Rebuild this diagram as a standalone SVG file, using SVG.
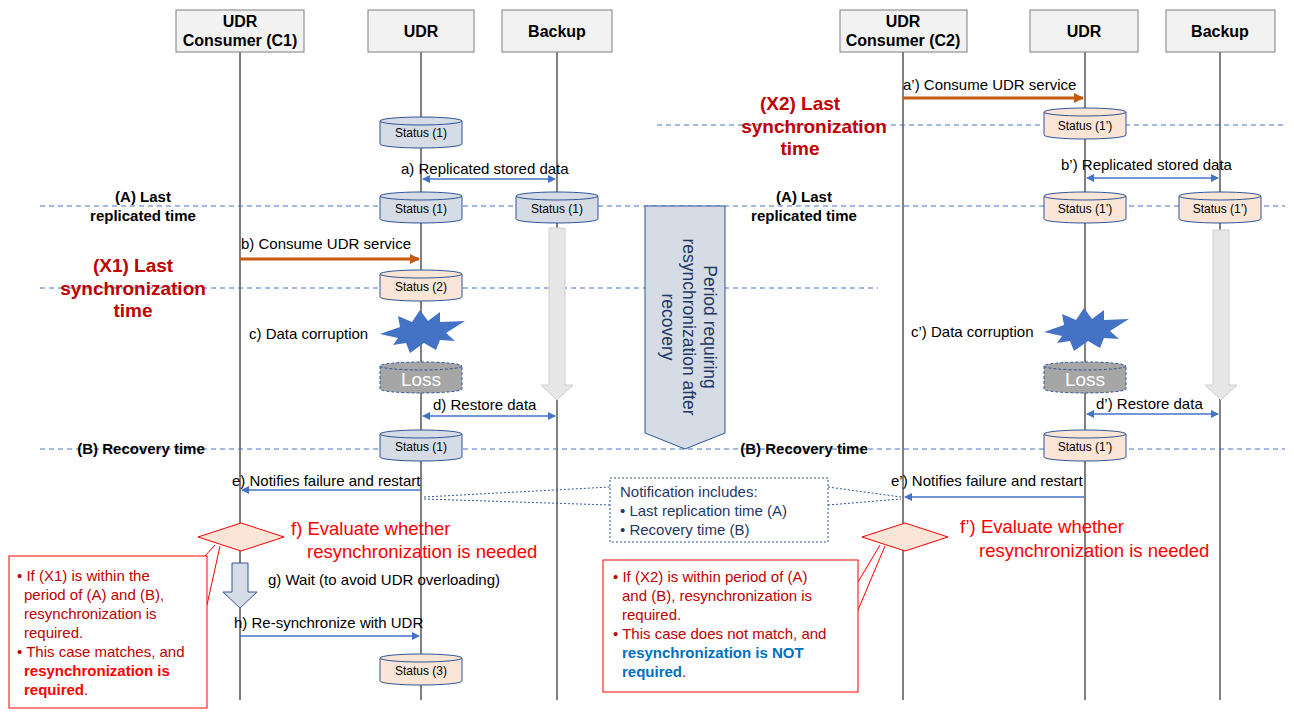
<svg xmlns="http://www.w3.org/2000/svg" width="1294" height="720" viewBox="0 0 1294 720">
<defs>
<style>
text{font-family:"Liberation Sans",Arial,sans-serif;fill:#000}
.hb{fill:#f2f2f2;stroke:#7f7f7f;stroke-width:1}
.ht{font-size:16px;font-weight:bold;text-anchor:middle}
.life{stroke:#000;stroke-width:1}
.dash{stroke:#4472c4;stroke-width:1;stroke-dasharray:5,4;fill:none}
.msg{stroke:#4472c4;stroke-width:1.5;fill:none}
.org{stroke:#c55a11;stroke-width:3;fill:none}
.lbl{font-size:15px}
.bl{font-size:15px;font-weight:bold;text-anchor:middle}
.red{fill:#c00000;font-size:19px;font-weight:bold;text-anchor:middle}
.ev{fill:#ff0000;font-size:18.5px}
.cb{fill:#d6dce5;stroke:#2f5597;stroke-width:1}
.co{fill:#fbe5d6;stroke:#2f5597;stroke-width:1}
.cl{fill:#a6a6a6;stroke:#2f5597;stroke-width:1;stroke-dasharray:3,2}
.st{font-size:12px;text-anchor:middle}
</style>
<marker id="ab" markerWidth="8" markerHeight="8" refX="7" refY="4" orient="auto-start-reverse" markerUnits="userSpaceOnUse"><path d="M0,0 L8,4 L0,8z" fill="#4472c4"/></marker>
<marker id="ao" markerWidth="10" markerHeight="10" refX="9" refY="5" orient="auto" markerUnits="userSpaceOnUse"><path d="M0,0 L10,5 L0,10z" fill="#c55a11"/></marker>
</defs>

<g id="lifelines">
<line class="life" x1="240" y1="52" x2="240" y2="700"/>
<line class="life" x1="421" y1="52" x2="421" y2="700"/>
<line class="life" x1="557" y1="52" x2="557" y2="700"/>
<line class="life" x1="903" y1="52" x2="903" y2="700"/>
<line class="life" x1="1085" y1="52" x2="1085" y2="700"/>
<line class="life" x1="1220" y1="52" x2="1220" y2="700"/>
</g>

<g id="timelines">
<line class="dash" x1="40" y1="206" x2="1285" y2="206"/>
<line class="dash" x1="40" y1="288" x2="878" y2="288"/>
<line class="dash" x1="657" y1="125" x2="1285" y2="125"/>
<line class="dash" x1="40" y1="449" x2="1285" y2="449"/>
</g>

<g id="h1"><rect class="hb" x="176" y="10" width="128" height="42"/><text class="ht" x="240" y="27">UDR</text><text class="ht" x="240" y="46">Consumer (C1)</text></g>
<g id="h2"><rect class="hb" x="368" y="10" width="106" height="42"/><text class="ht" x="421" y="37">UDR</text></g>
<g id="h3"><rect class="hb" x="502" y="10" width="110" height="42"/><text class="ht" x="557" y="37">Backup</text></g>
<g id="h4"><rect class="hb" x="840" y="10" width="127" height="42"/><text class="ht" x="903" y="27">UDR</text><text class="ht" x="903" y="46">Consumer (C2)</text></g>
<g id="h5"><rect class="hb" x="1030" y="10" width="108" height="42"/><text class="ht" x="1084" y="37">UDR</text></g>
<g id="h6"><rect class="hb" x="1166" y="10" width="109" height="42"/><text class="ht" x="1220" y="37">Backup</text></g>

<g id="period">
<path d="M645,206 L725,206 L725,433 L685,449 L645,433 Z" fill="#d6dce5" stroke="#2f5597" stroke-width="1"/>
<text transform="translate(700,327) rotate(90)" font-size="17.5" text-anchor="middle" style="fill:#1f3864"><tspan x="0" y="-4">Period requiring</tspan><tspan x="0" y="17">resynchronization  after</tspan><tspan x="0" y="38">recovery</tspan></text>
</g>

<g id="backuparrows">
<path d="M549,228 L565,228 L565,385 L573,385 L557,400 L541,385 L549,385 Z" fill="#e7e6e6" stroke="#d0d0d0"/>
<path d="M1213,230 L1229,230 L1229,385 L1237,385 L1221,400 L1205,385 L1213,385 Z" fill="#e7e6e6" stroke="#d0d0d0"/>
</g>

<g id="connectors">
<line class="msg" x1="423" y1="179" x2="555" y2="179" marker-start="url(#ab)" marker-end="url(#ab)"/>
<line class="org" x1="240" y1="259" x2="419" y2="259" marker-end="url(#ao)"/>
<line class="msg" x1="423" y1="416" x2="555" y2="416" marker-start="url(#ab)" marker-end="url(#ab)"/>
<line class="msg" x1="421" y1="490" x2="242" y2="490" marker-end="url(#ab)"/>
<line class="msg" x1="240" y1="636" x2="419" y2="636" marker-end="url(#ab)"/>
<line class="org" x1="903" y1="98" x2="1083" y2="98" marker-end="url(#ao)"/>
<line class="msg" x1="1087" y1="178" x2="1218" y2="178" marker-start="url(#ab)" marker-end="url(#ab)"/>
<line class="msg" x1="1087" y1="414" x2="1218" y2="414" marker-start="url(#ab)" marker-end="url(#ab)"/>
<line class="msg" x1="1085" y1="497" x2="905" y2="497" marker-end="url(#ab)"/>
<path d="M424,497 L610,487 M424,499 L610,505" stroke="#2f5597" stroke-width="1" stroke-dasharray="2,2" fill="none"/>
<path d="M828,487 L901,497 M828,505 L901,499" stroke="#2f5597" stroke-width="1" stroke-dasharray="2,2" fill="none"/>
<path d="M232,563 L248,563 L248,592 L257,592 L240,608 L223,592 L232,592 Z" fill="#d6dce5" stroke="#2f5597"/>
</g>

<g id="labels">
<text class="lbl" x="401" y="174">a) Replicated stored data</text>
<text class="lbl" x="241" y="249">b) Consume UDR service</text>
<text class="lbl" x="249" y="339">c) Data corruption</text>
<text class="lbl" x="433" y="410">d) Restore data</text>
<text class="lbl" x="232" y="486">e) Notifies failure and restart</text>
<text class="lbl" x="268" y="585">g) Wait (to avoid UDR overloading)</text>
<text class="lbl" x="234" y="628">h) Re-synchronize  with UDR</text>
<text class="lbl" x="903" y="90">a’) Consume UDR service</text>
<text class="lbl" x="1061" y="170">b’) Replicated stored data</text>
<text class="lbl" x="911" y="337">c’) Data corruption</text>
<text class="lbl" x="1096" y="409">d’) Restore data</text>
<text class="lbl" x="891" y="486">e’) Notifies failure and restart</text>
<text class="bl" x="143" y="202">(A) Last</text><text class="bl" x="143" y="221">replicated time</text>
<text class="bl" x="804" y="202">(A) Last</text><text class="bl" x="804" y="221">replicated time</text>
<text class="bl" x="141" y="454">(B) Recovery time</text>
<text class="bl" x="804" y="454">(B) Recovery time</text>
<text class="red" x="133" y="272">(X1) Last</text><text class="red" x="133" y="295">synchronization</text><text class="red" x="133" y="317">time</text>
<text class="red" x="800" y="110">(X2) Last</text><text class="red" x="814" y="133">synchronization</text><text class="red" x="800" y="155">time</text>
<text class="ev" x="291" y="535">f) Evaluate whether</text><text class="ev" x="307" y="558">resynchronization is needed</text>
<text class="ev" x="960" y="533">f’) Evaluate whether</text><text class="ev" x="979" y="557">resynchronization is needed</text>
</g>

<g id="cylinders">
<g id="c1"><path class="cb" d="M380,121 v23 a41,4 0 0 0 82,0 v-23"/><ellipse class="cb" cx="421" cy="121" rx="41" ry="4"/><text class="st" x="421" y="137">Status (1)</text></g>
<g id="c2"><path class="cb" d="M380,196 v23 a41,4 0 0 0 82,0 v-23"/><ellipse class="cb" cx="421" cy="196" rx="41" ry="4"/><text class="st" x="421" y="213">Status (1)</text></g>
<g id="c3"><path class="cb" d="M516,196 v23 a41,4 0 0 0 82,0 v-23"/><ellipse class="cb" cx="557" cy="196" rx="41" ry="4"/><text class="st" x="557" y="213">Status (1)</text></g>
<g id="c4"><path class="co" d="M380,274 v23 a41,4 0 0 0 82,0 v-23"/><ellipse class="co" cx="421" cy="274" rx="41" ry="4"/><text class="st" x="421" y="291">Status (2)</text></g>
<g id="c5"><path class="cl" d="M380,366 v23 a41,4 0 0 0 82,0 v-23"/><ellipse class="cl" cx="421" cy="366" rx="41" ry="4"/><text x="421" y="386" font-size="19" text-anchor="middle" style="fill:#fff">Loss</text></g>
<g id="c6"><path class="cb" d="M380,434 v23 a41,4 0 0 0 82,0 v-23"/><ellipse class="cb" cx="421" cy="434" rx="41" ry="4"/><text class="st" x="421" y="451">Status (1)</text></g>
<g id="c7"><path class="co" d="M380,658 v23 a41,4 0 0 0 82,0 v-23"/><ellipse class="co" cx="421" cy="658" rx="41" ry="4"/><text class="st" x="421" y="675">Status (3)</text></g>
<g id="c8"><path class="co" d="M1044,112 v23 a41,4 0 0 0 82,0 v-23"/><ellipse class="co" cx="1085" cy="112" rx="41" ry="4"/><text class="st" x="1085" y="130">Status (1’)</text></g>
<g id="c9"><path class="co" d="M1044,196 v23 a41,4 0 0 0 82,0 v-23"/><ellipse class="co" cx="1085" cy="196" rx="41" ry="4"/><text class="st" x="1085" y="213">Status (1’)</text></g>
<g id="c10"><path class="co" d="M1179,196 v23 a41,4 0 0 0 82,0 v-23"/><ellipse class="co" cx="1220" cy="196" rx="41" ry="4"/><text class="st" x="1220" y="213">Status (1’)</text></g>
<g id="c11"><path class="cl" d="M1044,366 v23 a41,4 0 0 0 82,0 v-23"/><ellipse class="cl" cx="1085" cy="366" rx="41" ry="4"/><text x="1085" y="386" font-size="19" text-anchor="middle" style="fill:#fff">Loss</text></g>
<g id="c12"><path class="co" d="M1044,434 v23 a41,4 0 0 0 82,0 v-23"/><ellipse class="co" cx="1085" cy="434" rx="41" ry="4"/><text class="st" x="1085" y="451">Status (1’)</text></g>
</g>

<g id="bursts">
<path d="M380,334 L400,327 L398,316 L412,322 L420,310 L428,321 L440,312 L440,322 L465,321 L446,333 L455,341 L440,340 L436,350 L424,343 L410,353 L406,343 L393,345 L398,338 Z" fill="#4472c4"/>
<path d="M1044,332 L1064,325 L1062,314 L1076,320 L1084,308 L1092,319 L1104,310 L1104,320 L1129,319 L1110,331 L1119,339 L1104,338 L1100,348 L1088,341 L1074,351 L1070,341 L1057,343 L1062,336 Z" fill="#4472c4"/>
</g>

<g id="notification">
<rect x="610" y="478" width="218" height="64" fill="#fff" stroke="#2f5597" stroke-dasharray="2,2"/>
<text x="620" y="497" font-size="15" style="fill:#1f3864">Notification includes:</text>
<text x="620" y="516" font-size="15" style="fill:#1f3864">• Last replication time (A)</text>
<text x="620" y="535" font-size="15" style="fill:#1f3864">• Recovery  time (B)</text>
</g>

<g id="decision1">
<path d="M198,537 L241,523 L284,537 L241,551 Z" fill="#fbe5d6" stroke="#ff0000"/>
<path d="M215,545 L183,580 M220,546 L207,605" stroke="#ff0000" fill="none"/>
<rect x="9" y="556" width="198" height="152" fill="#fff" stroke="#ff0000"/>
<text x="17" y="581" font-size="15" style="fill:#c00000"><tspan>• If (X1) is within the</tspan><tspan x="24" dy="19">period of (A) and (B),</tspan><tspan x="24" dy="19">resynchronization  is</tspan><tspan x="24" dy="19">required.</tspan><tspan x="17" dy="19">• This case matches, and</tspan><tspan x="24" dy="19" font-weight="bold" style="fill:#ff0000">resynchronization is</tspan><tspan x="24" dy="19" font-weight="bold" style="fill:#ff0000">required</tspan><tspan>.</tspan></text>
</g>

<g id="decision2">
<path d="M862,537 L905,523 L948,537 L905,551 Z" fill="#fbe5d6" stroke="#ff0000"/>
<path d="M880,545 L858,582 M885,546 L858,610" stroke="#ff0000" fill="none"/>
<rect x="603" y="560" width="255" height="132" fill="#fff" stroke="#ff0000"/>
<text x="613" y="582" font-size="15" style="fill:#c00000"><tspan>•  If (X2) is within period of (A)</tspan><tspan x="622" dy="19">and (B), resynchronization  is</tspan><tspan x="622" dy="19">required.</tspan><tspan x="613" dy="19">• This case does not match, and</tspan><tspan x="622" dy="19" font-weight="bold" style="fill:#0070c0">resynchronization is NOT</tspan><tspan x="622" dy="19" font-weight="bold" style="fill:#0070c0">required</tspan><tspan>.</tspan></text>
</g>
</svg>
